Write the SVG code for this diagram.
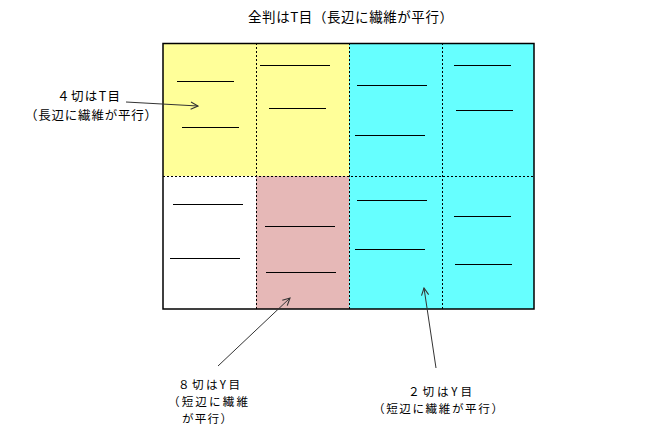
<svg xmlns="http://www.w3.org/2000/svg" width="647" height="440" viewBox="0 0 647 440">
<defs>
<style>
text{font-family:"Noto Sans CJK JP","Noto Sans CJK SC",sans-serif;font-size:12.5px;fill:#000;text-anchor:middle;text-spacing-trim:space-all}
.sm{font-size:11.6px}
.seg{stroke:#000;stroke-width:1}
.div{stroke:#000;stroke-width:1;stroke-dasharray:2,2;fill:none}
.arr{stroke:#333;stroke-width:1;fill:none;marker-end:url(#ah)}
</style>
<marker id="ah" viewBox="0 0 10 10" refX="9" refY="5" markerWidth="9" markerHeight="9" markerUnits="userSpaceOnUse" orient="auto">
<path d="M1,1 L9,5 L1,9" fill="none" stroke="#333" stroke-width="1.2"/>
</marker>
</defs>
<rect width="647" height="440" fill="#fff"/>
<g id="sheet">
<rect x="163" y="43" width="186" height="133" fill="#FFFF99"/>
<rect x="349" y="43" width="185" height="266" fill="#66FFFF"/>
<rect x="256" y="176" width="93" height="133" fill="#E6B8B7"/>
<line class="div" x1="256.5" y1="43" x2="256.5" y2="309"/>
<line class="div" x1="349.5" y1="43" x2="349.5" y2="309"/>
<line class="div" x1="442.5" y1="43" x2="442.5" y2="309"/>
<line class="div" x1="163" y1="176.5" x2="534" y2="176.5"/>
<rect x="163" y="43.5" width="371" height="265.5" fill="none" stroke="#000" stroke-width="1.5"/>
</g>
<g id="grain-lines">
<line class="seg" x1="177" y1="81.5" x2="234" y2="81.5"/>
<line class="seg" x1="182" y1="127.5" x2="239" y2="127.5"/>
<line class="seg" x1="260" y1="65.5" x2="330" y2="65.5"/>
<line class="seg" x1="269" y1="108.5" x2="326" y2="108.5"/>
<line class="seg" x1="357" y1="85.5" x2="427" y2="85.5"/>
<line class="seg" x1="355" y1="135.5" x2="425" y2="135.5"/>
<line class="seg" x1="454" y1="65.5" x2="511" y2="65.5"/>
<line class="seg" x1="456" y1="110.5" x2="513" y2="110.5"/>
<line class="seg" x1="173" y1="204.5" x2="243" y2="204.5"/>
<line class="seg" x1="170" y1="258.5" x2="240" y2="258.5"/>
<line class="seg" x1="265" y1="226.5" x2="335" y2="226.5"/>
<line class="seg" x1="266" y1="272.5" x2="336" y2="272.5"/>
<line class="seg" x1="357" y1="200.5" x2="427" y2="200.5"/>
<line class="seg" x1="355" y1="249.5" x2="425" y2="249.5"/>
<line class="seg" x1="454" y1="216.5" x2="511" y2="216.5"/>
<line class="seg" x1="455" y1="264.5" x2="512" y2="264.5"/>
</g>
<g id="connectors">
<line class="arr" x1="126" y1="102" x2="198" y2="106"/>
<line class="arr" x1="218" y1="366" x2="290" y2="298"/>
<line class="arr" x1="436" y1="368" x2="424" y2="288"/>
</g>
<g id="title"><text x="350.5" y="22" style="font-size:13.5px" textLength="205">全判はT目（長辺に繊維が平行）</text></g>
<g id="label-4"><text x="88.5" y="101" textLength="63">４切はT目</text><text x="91" y="120" textLength="132">（長辺に繊維が平行）</text></g>
<g id="label-8"><text class="sm" x="209" y="388.5" textLength="62">８切はY目</text><text class="sm" x="208" y="405.5" textLength="80">（短辺に繊維</text><text class="sm" x="207" y="422.5" textLength="50">が平行）</text></g>
<g id="label-2"><text class="sm" x="440" y="395.5" textLength="64">２切はY目</text><text class="sm" x="438" y="412.5" textLength="130">（短辺に繊維が平行）</text></g>
</svg>
